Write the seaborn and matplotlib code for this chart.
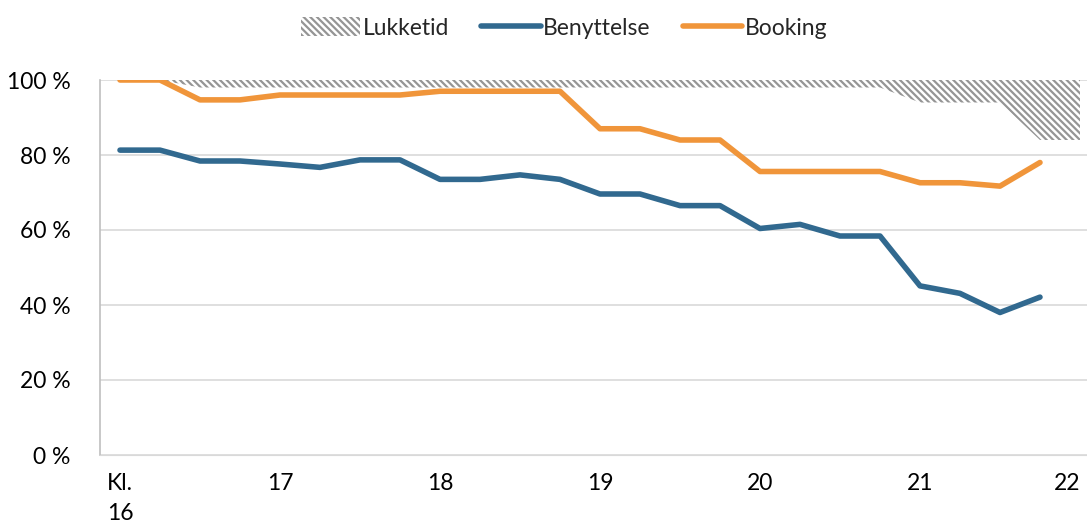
import numpy as np
import seaborn as sns
import matplotlib.pyplot as plt
from matplotlib.patches import Patch
from matplotlib.lines import Line2D

# quarter-hour slots from 16:00 to 21:45, tick labels every hour
benyttelse = [81.3, 81.3, 78.4, 78.4, 77.6, 76.7, 78.7, 78.7,
              73.5, 73.5, 74.7, 73.5, 69.6, 69.6, 66.5, 66.5,
              60.4, 61.5, 58.4, 58.4, 45.1, 43.1, 38.0, 42.1]
booking = [100, 100, 94.7, 94.7, 96, 96, 96, 96,
           97, 97, 97, 97, 87, 87, 84, 84,
           75.6, 75.6, 75.6, 75.6, 72.6, 72.6, 71.7, 78]
# lower edge of the closed-time band (top is 100 %), 16:00 .. 22:00
lukket_bund = [100, 100, 98, 98, 98, 98, 98, 98,
               98, 98, 98, 98, 98, 98, 98, 98,
               98, 98, 98, 98, 94, 94, 94, 84, 84]
hour_labels = ['Kl.\n16', '17', '18', '19', '20', '21', '22']

blue = '#31698f'
orange = '#f0953a'
hatch = '\\' * 5

sns.set_style('white')
plt.rcParams['font.family'] = ['Lato', 'DejaVu Sans']
plt.rcParams['hatch.linewidth'] = 1.6
plt.rcParams['hatch.color'] = '#959595'

fig = plt.figure(figsize=(10.87, 5.30), dpi=100)
ax = fig.add_axes([100 / 1087, 75 / 530, 987 / 1087, 375 / 530])

x_band = np.arange(len(lukket_bund))
ax.fill_between(x_band, lukket_bund, 100, facecolor='white',
                edgecolor='#959595', hatch=hatch, linewidth=0, zorder=2)

x = np.arange(len(benyttelse))
sns.lineplot(x=x, y=benyttelse, ax=ax, color=blue, linewidth=4,
             solid_capstyle='round', zorder=3)
sns.lineplot(x=x, y=booking, ax=ax, color=orange, linewidth=4,
             solid_capstyle='round', zorder=3)

ax.set_xlim(-0.5, (1087 - 120) / 40)
ax.set_ylim(0, 100)
ax.set_yticks(range(0, 101, 20))
ax.set_yticklabels([f'{v} %' for v in range(0, 101, 20)], fontsize=16.5)
ax.set_xticks(range(0, 25, 4))
ax.set_xticklabels(hour_labels, fontsize=16.5, va='top', linespacing=1.5)
ax.get_xticklabels()[-1].set_ha('right')
ax.grid(axis='y', color='#d9d9d9', linewidth=1.2)
ax.set_axisbelow(True)
for side in ['top', 'right']:
    ax.spines[side].set_visible(False)
ax.spines['left'].set_color('#bfbfbf')
ax.spines['bottom'].set_color('#d9d9d9')
ax.spines['left'].set_linewidth(1.2)
ax.tick_params(axis='y', length=7, color='#bfbfbf', pad=14, labelcolor='black')
ax.tick_params(axis='x', length=0, pad=13, labelcolor='black')

handles = [Patch(facecolor='white', edgecolor='#959595', hatch=hatch, linewidth=0),
           Line2D([], [], color=blue, linewidth=4, solid_capstyle='round'),
           Line2D([], [], color=orange, linewidth=4, solid_capstyle='round')]
fig.legend(handles, ['Lukketid', 'Benyttelse', 'Booking'], loc='center',
           bbox_to_anchor=(564 / 1087, 1 - 28 / 530), ncol=3, frameon=False,
           fontsize=16.5, handlelength=2.6, handleheight=0.85,
           handletextpad=0.1, columnspacing=1.4)

fig.savefig('out.png', dpi=100)
